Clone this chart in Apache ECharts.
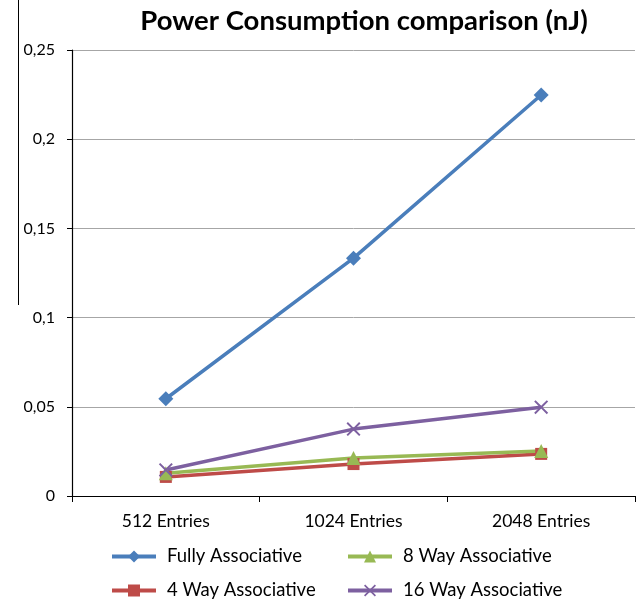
<!DOCTYPE html>
<html>
<head>
<meta charset="utf-8">
<script src="https://cdn.jsdelivr.net/npm/echarts@6/dist/echarts.min.js"></script>
<style>
  html, body { margin: 0; padding: 0; background: #fff; }
  #chart { width: 641px; height: 608px; }
</style>
</head>
<body>
<div id="chart"></div>
<script>
// Cache sizes on the category axis
const categories = ['512 Entries', '1024 Entries', '2048 Entries'];

// Energy per access in nJ for each cache organisation
const fullyAssoc = [0.0545, 0.1333, 0.2248];
const way4Assoc = [0.0107, 0.0179, 0.0236];
const way8Assoc = [0.0127, 0.0213, 0.0252];
const way16Assoc = [0.0146, 0.0375, 0.0498];

const yTicks = [0, 0.05, 0.1, 0.15, 0.2, 0.25];

const FONT = 'Lato, "Open Sans", sans-serif';
const crossPath = 'path://M0,1L1,0L5,4L9,0L10,1L6,5L10,9L9,10L5,6L1,10L0,9L4,5Z';

function lineSeries(name, data, color, symbol, size) {
  return {
    name: name,
    type: 'line',
    data: data,
    symbol: symbol,
    symbolSize: size,
    showAllSymbol: true,
    lineStyle: { color: color, width: 3.5 },
    itemStyle: { color: color },
    emphasis: { disabled: true },
    z: 3
  };
}

function legendColumn(left, names) {
  return {
    left: left, top: 547, orient: 'vertical', itemGap: 15,
    itemWidth: 44, itemHeight: 15, padding: 0, height: 61,
    data: names,
    lineStyle: { width: 4 },
    textStyle: { fontFamily: FONT, fontSize: 18.5, color: '#000', padding: [0, 0, 0, 6] }
  };
}

const chart = echarts.init(document.getElementById('chart'), null, { renderer: 'canvas' });

chart.setOption({
  animation: false,
  backgroundColor: '#ffffff',
  textStyle: { fontFamily: FONT },
  title: {
    text: 'Power Consumption comparison (nJ)',
    left: 359,
    textAlign: 'center',
    top: 2,
    textStyle: { fontFamily: FONT, fontSize: 27.5, fontWeight: 'bold', color: '#000' }
  },
  grid: { left: 72, right: 6, top: 50, bottom: 112, containLabel: false },
  xAxis: {
    type: 'category',
    data: categories,
    boundaryGap: true,
    axisLine: { lineStyle: { color: '#000', width: 1.2 } },
    axisTick: { show: true, length: 6, lineStyle: { color: '#000' } },
    axisLabel: { fontFamily: FONT, fontSize: 17.5, color: '#000', margin: 16 },
    splitLine: { show: false }
  },
  yAxis: {
    type: 'value',
    min: yTicks[0],
    max: yTicks[yTicks.length - 1],
    interval: yTicks[1] - yTicks[0],
    axisLine: { show: true, lineStyle: { color: '#000', width: 1.2 } },
    axisTick: { show: true, length: 5, lineStyle: { color: '#000' } },
    axisLabel: {
      fontFamily: FONT, fontSize: 16, color: '#000', margin: 17,
      formatter: v => String(Math.round(v * 100) / 100).replace('.', ',')
    },
    splitLine: { show: true, lineStyle: { color: '#a6a6a6', width: 1 } }
  },
  legend: [
    legendColumn(110, ['Fully Associative', '4 Way Associative']),
    legendColumn(346, ['8 Way Associative', '16 Way Associative'])
  ],
  graphic: [
    {
      type: 'line',
      shape: { x1: 18.5, y1: 0, x2: 18.5, y2: 305 },
      style: { stroke: '#000', lineWidth: 1 }
    }
  ],
  series: [
    lineSeries('Fully Associative', fullyAssoc, '#4a7ebb', 'diamond', 15),
    lineSeries('4 Way Associative', way4Assoc, '#be4b48', 'rect', 12),
    lineSeries('8 Way Associative', way8Assoc, '#98b954', 'triangle', 14),
    lineSeries('16 Way Associative', way16Assoc, '#7d60a0', crossPath, 14)
  ]
});
</script>
</body>
</html>
